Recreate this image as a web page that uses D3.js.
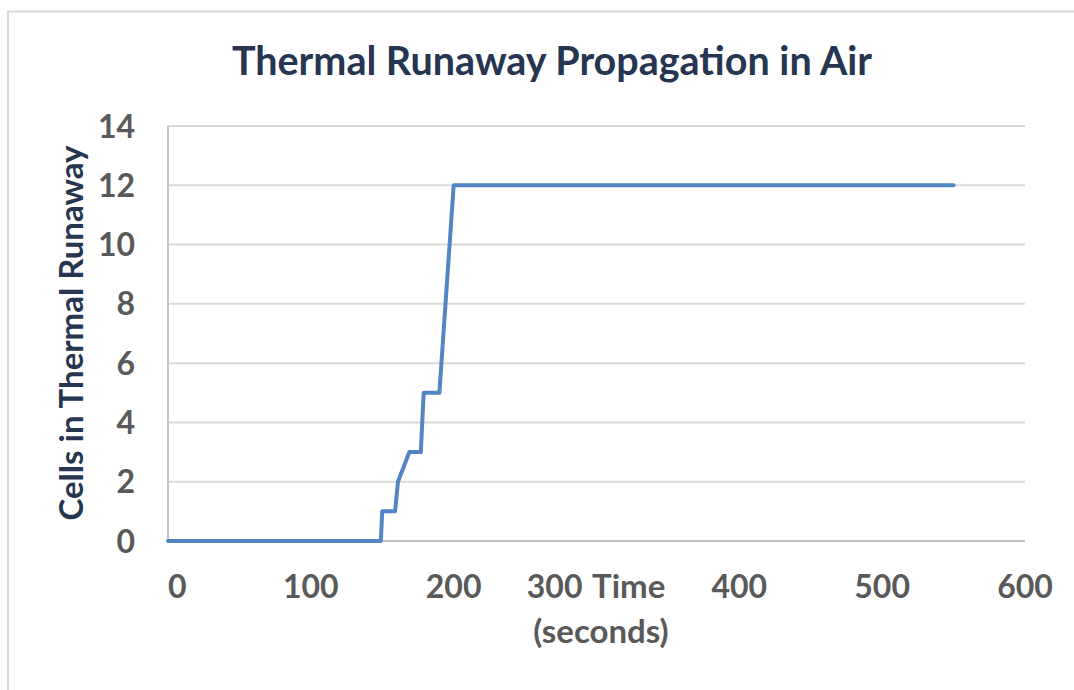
<!DOCTYPE html>
<html>
<head>
<meta charset="utf-8">
<script src="https://cdn.jsdelivr.net/npm/d3@7"></script>
<style>
  body { margin: 0; background: #ffffff; }
  text { font-family: "Lato", "Open Sans", sans-serif; font-weight: 700; }
</style>
</head>
<body>
<script>
// data
var timeValues = [0, 149, 150, 159, 161, 169, 177, 179, 190, 200, 550];
var cellValues = [0, 0, 1, 1, 2, 3, 3, 5, 5, 12, 12];
var xTicks = [0, 100, 200, 300, 400, 500, 600];
var yTicks = [0, 2, 4, 6, 8, 10, 12, 14];

var chartTitle = "Thermal Runaway Propagation in Air";
var yTitle = "Cells in Thermal Runaway";

var width = 1074, height = 690;
var margin = {left: 168, right: 49, top: 126, bottom: 149};

var svg = d3.select("body")
            .append("svg")
            .attr("width", width)
            .attr("height", height);

// chart area border
svg.append("rect")
   .attr("x", 8)
   .attr("y", 11.5)
   .attr("width", 1080)
   .attr("height", 700)
   .attr("fill", "none")
   .attr("stroke", "#d9d9d9")
   .attr("stroke-width", 2);

var xScale = d3.scaleLinear()
               .domain([0, 600])
               .range([margin.left, width - margin.right]);
var yScale = d3.scaleLinear()
               .domain([0, 14])
               .range([height - margin.bottom, margin.top]);

// gridlines
svg.append("g")
   .selectAll("line")
   .data(yTicks.filter(function(d) { return d > 0; }))
   .join("line")
   .attr("x1", xScale(0))
   .attr("x2", xScale(600))
   .attr("y1", function(d) { return yScale(d); })
   .attr("y2", function(d) { return yScale(d); })
   .attr("stroke", "#d9d9d9")
   .attr("stroke-width", 2);

// axis lines
svg.append("line")
   .attr("x1", xScale(0)).attr("x2", xScale(0))
   .attr("y1", yScale(14)).attr("y2", yScale(0))
   .attr("stroke", "#c4c4c4").attr("stroke-width", 2);
svg.append("line")
   .attr("x1", xScale(0)).attr("x2", xScale(600))
   .attr("y1", yScale(0)).attr("y2", yScale(0))
   .attr("stroke", "#bfbfbf").attr("stroke-width", 2);

// y tick labels
svg.append("g")
   .selectAll("text")
   .data(yTicks)
   .join("text")
   .attr("x", 135)
   .attr("y", function(d) { return yScale(d); })
   .attr("dy", "0.36em")
   .attr("text-anchor", "end")
   .attr("fill", "#595959")
   .style("font-size", "32px")
   .text(function(d) { return d; });

// x tick labels (the 300 label sits left of the axis title, as in the original)
svg.append("g")
   .selectAll("text")
   .data(xTicks)
   .join("text")
   .attr("x", function(d) {
     if (d === 0) return xScale(d);
     if (d === 300) return xScale(d) - 14;
     return xScale(d);
   })
   .attr("y", 598)
   .attr("text-anchor", function(d) {
     if (d === 0) return "start";
     if (d === 300) return "end";
     return "middle";
   })
   .attr("fill", "#595959")
   .style("font-size", "32px")
   .text(function(d) { return d; });

// x axis title
svg.append("text")
   .attr("x", 592)
   .attr("y", 598)
   .attr("fill", "#595959")
   .style("font-size", "33px")
   .text("Time");
svg.append("text")
   .attr("x", 601)
   .attr("y", 643)
   .attr("text-anchor", "middle")
   .attr("fill", "#595959")
   .style("font-size", "33px")
   .text("(seconds)");

// y axis title
svg.append("text")
   .attr("transform", "translate(83," + 333 + ") rotate(-90)")
   .attr("text-anchor", "middle")
   .attr("fill", "#263550")
   .style("font-size", "33px")
   .text(yTitle);

// chart title
svg.append("text")
   .attr("x", 552)
   .attr("y", 75)
   .attr("text-anchor", "middle")
   .attr("fill", "#263550")
   .style("font-size", "39.5px")
   .text(chartTitle);

// series line
var points = timeValues.map(function(t, i) { return [t, cellValues[i]]; });
var line = d3.line()
             .x(function(d) { return xScale(d[0]); })
             .y(function(d) { return yScale(d[1]); });

svg.append("path")
   .datum(points)
   .attr("d", line)
   .attr("fill", "none")
   .attr("stroke", "#5384c4")
   .attr("stroke-width", 4)
   .attr("stroke-linejoin", "round")
   .attr("stroke-linecap", "round");
</script>
</body>
</html>
